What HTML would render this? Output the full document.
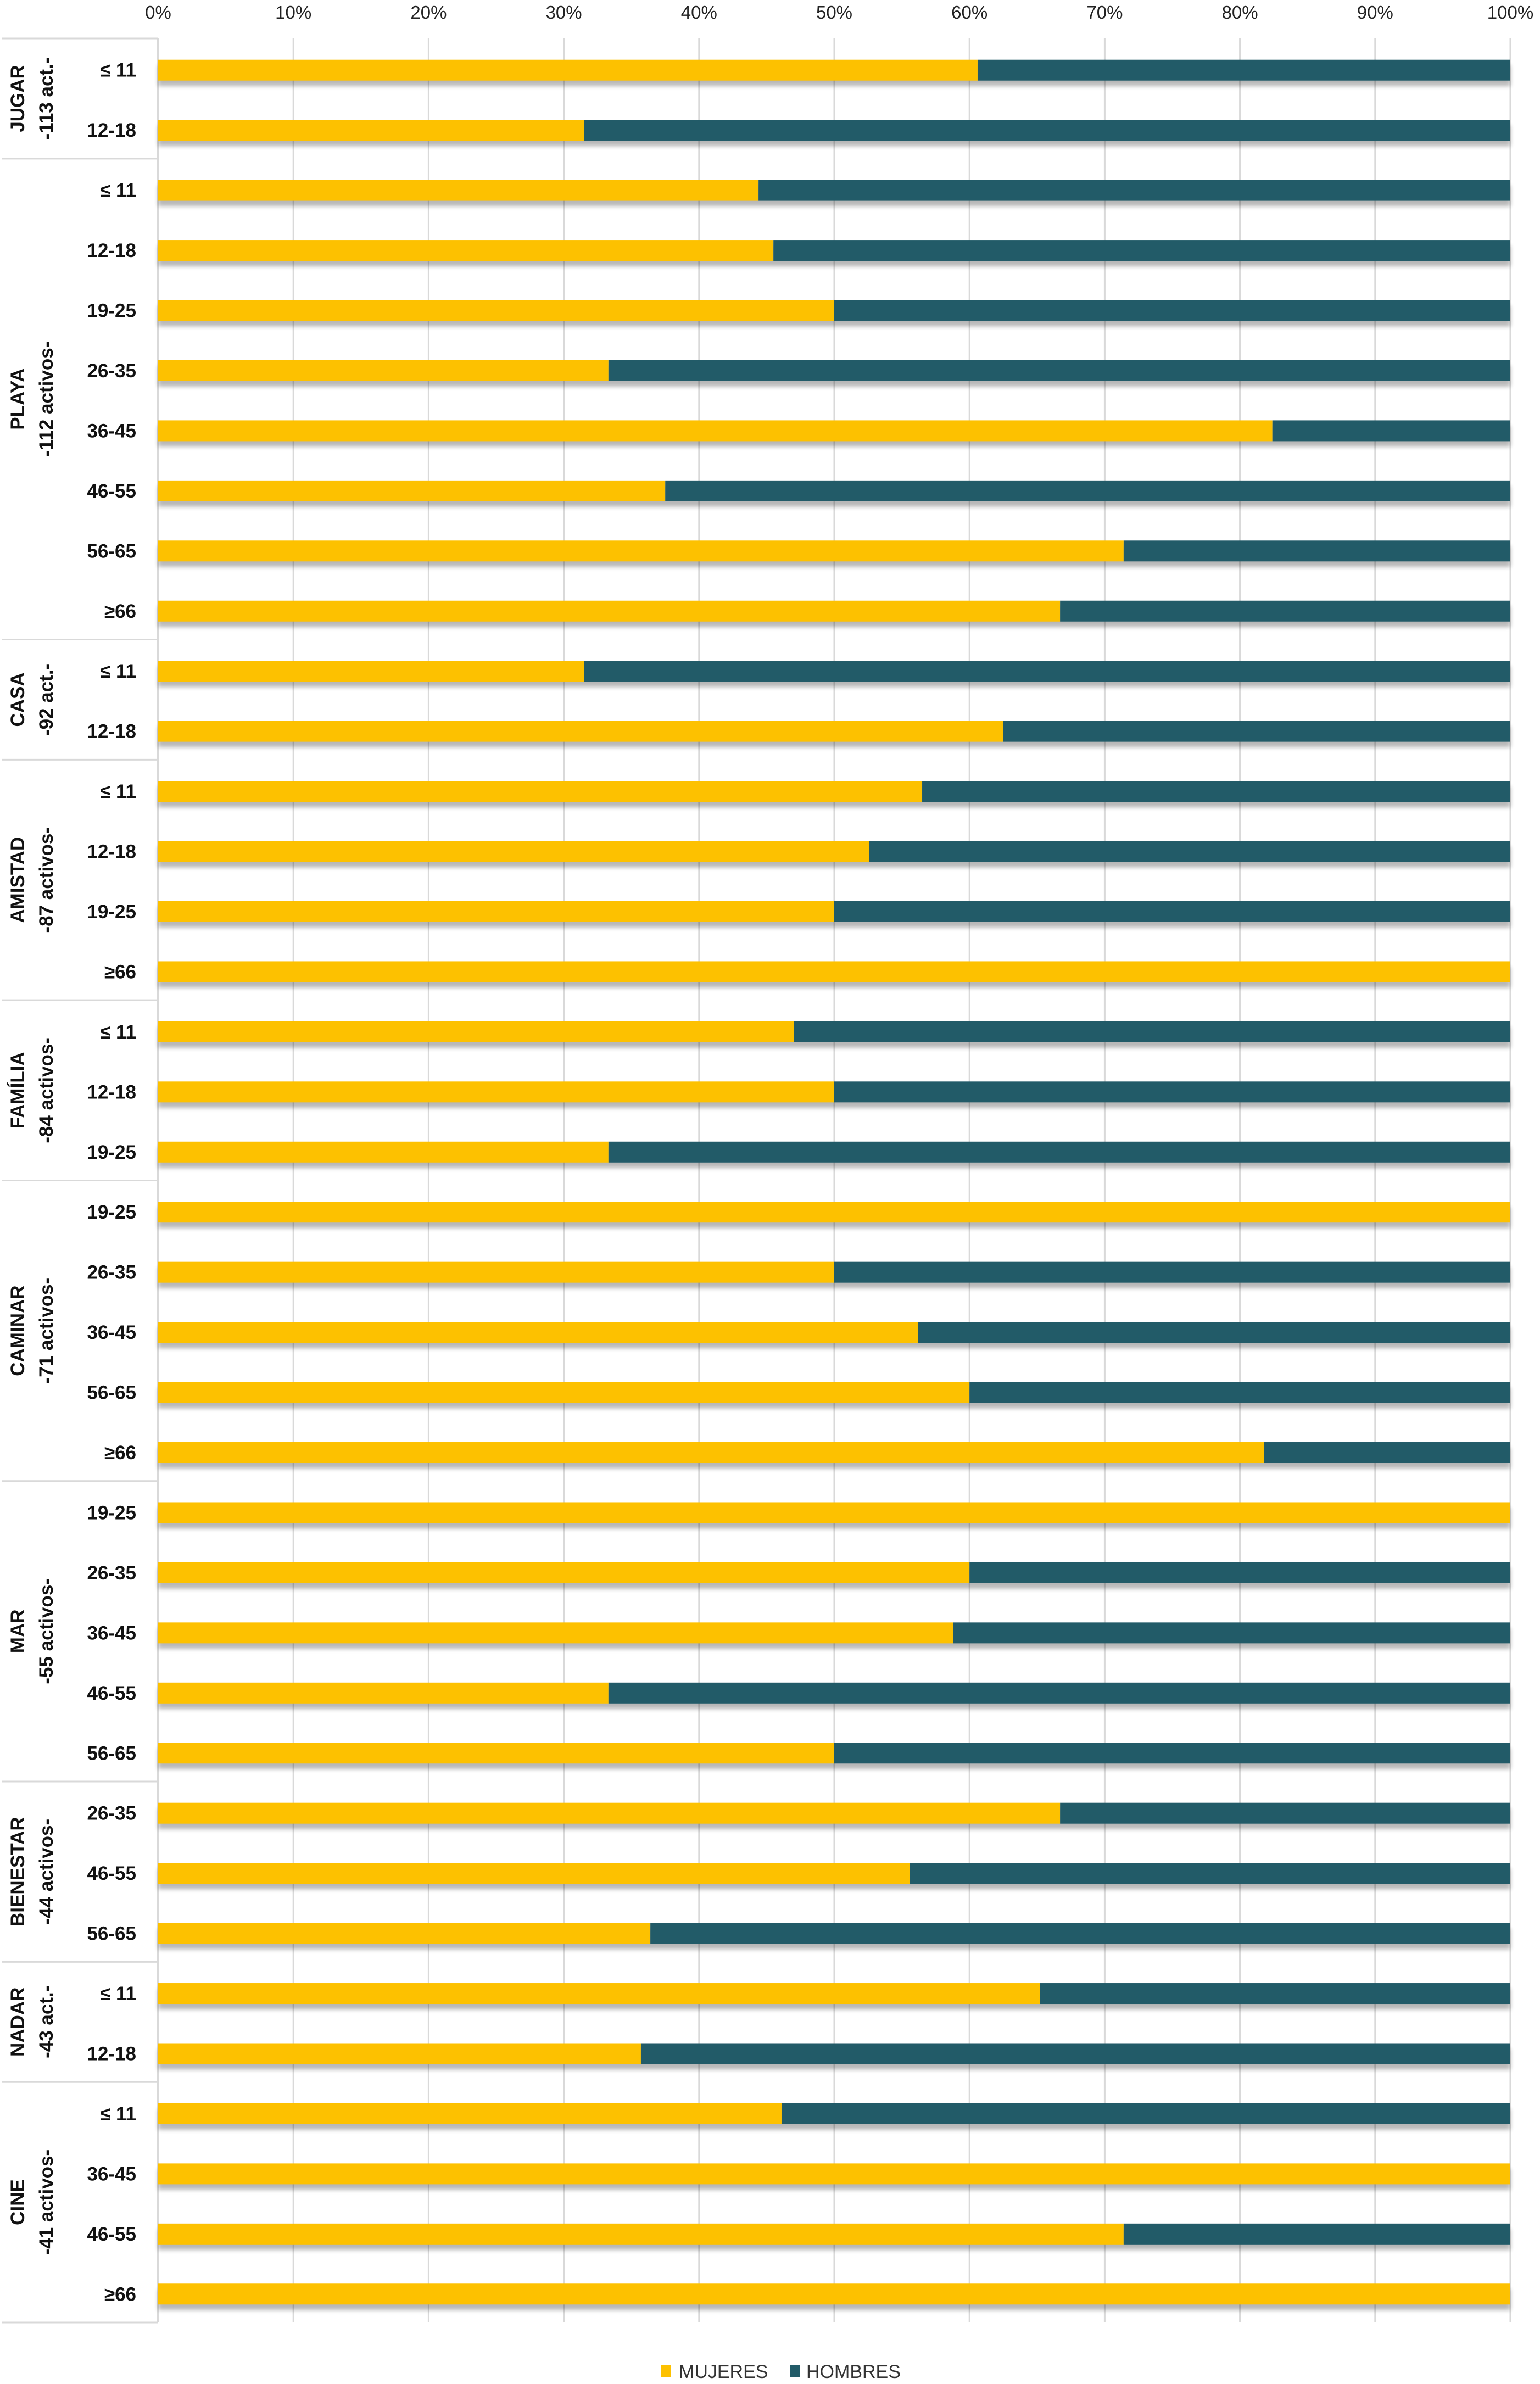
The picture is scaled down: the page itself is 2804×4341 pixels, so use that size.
<!DOCTYPE html>
<html><head><meta charset="utf-8">
<style>
html,body{margin:0;padding:0;background:#fff;}
svg{display:block;}
text{font-family:"Liberation Sans",sans-serif;}
</style></head>
<body>
<svg id="chart" width="2804" height="4341" viewBox="0 0 2804 4341" xmlns="http://www.w3.org/2000/svg">
<defs>
<filter id="sh" x="-5%" y="-50%" width="110%" height="250%">
<feGaussianBlur stdDeviation="4"/>
</filter>
</defs>
<g id="grid"></g><g id="bars"></g><g id="labels"></g>
<g>
<rect x="1203" y="4307" width="18" height="22" fill="#FDC100"/>
<text x="1236" y="4330" font-size="34" fill="#333">MUJERES</text>
<rect x="1438" y="4307" width="18" height="22" fill="#225B68"/>
<text x="1468" y="4330" font-size="34" fill="#333">HOMBRES</text>
</g>
</svg>
<script>
const groups = ["JUGAR","PLAYA","CASA","AMISTAD","FAMÍLIA","CAMINAR","MAR","BIENESTAR","NADAR","CINE"];
const groupSub = ["-113 act.-","-112 activos-","-92 act.-","-87 activos-","-84 activos-","-71 activos-","-55 activos-","-44 activos-","-43 act.-","-41 activos-"];
const groupAges = [
 ["≤ 11","12-18"],
 ["≤ 11","12-18","19-25","26-35","36-45","46-55","56-65","≥66"],
 ["≤ 11","12-18"],
 ["≤ 11","12-18","19-25","≥66"],
 ["≤ 11","12-18","19-25"],
 ["19-25","26-35","36-45","56-65","≥66"],
 ["19-25","26-35","36-45","46-55","56-65"],
 ["26-35","46-55","56-65"],
 ["≤ 11","12-18"],
 ["≤ 11","36-45","46-55","≥66"]
];
const mujeres = [
 [60.6,31.5],
 [44.4,45.5,50,33.3,82.4,37.5,71.4,66.7],
 [31.5,62.5],
 [56.5,52.6,50,100],
 [47,50,33.3],
 [100,50,56.2,60,81.8],
 [100,60,58.8,33.3,50],
 [66.7,55.6,36.4],
 [65.2,35.7],
 [46.1,100,71.4,100]
];
const ticks = ["0%","10%","20%","30%","40%","50%","60%","70%","80%","90%","100%"];

const NS="http://www.w3.org/2000/svg";
const X0=288, X1=2750, Y0=70, Y1=4229;
const nRows = groupAges.reduce((a,g)=>a+g.length,0);
const pitch=(Y1-Y0)/nRows;
const xs=v=>X0+(X1-X0)*v/100;
function mk(tag,attrs,parent){const e=document.createElementNS(NS,tag);for(const k in attrs)e.setAttribute(k,attrs[k]);parent.appendChild(e);return e;}
const grid=document.getElementById('grid'),bars=document.getElementById('bars'),labels=document.getElementById('labels');

ticks.forEach((t,i)=>{
  const x=xs(i*10);
  const l=mk('line',{x1:x,x2:x,y1:Y0,y2:Y1,stroke:'#d9d9d9','stroke-width':3},grid);
  
  
  const tx=mk('text',{x:x,y:34,'font-size':33,'text-anchor':'middle',fill:'#222'},labels);
  tx.textContent=t;
  
  
});

let row=0;
const topLine=mk('line',{x1:4,x2:X0,y1:Y0,y2:Y0,stroke:'#d9d9d9','stroke-width':3},grid);


groups.forEach((g,gi)=>{
  const start=row;
  groupAges[gi].forEach((age,ai)=>{
    const cy=Y0+pitch*(row+0.5)+3;
    const bh=38, by=cy-bh/2;
    const v=mujeres[gi][ai];
    const s=mk('rect',{x:X0,y:by+10,width:X1-X0,height:bh,fill:'#000',opacity:0.28,filter:'url(#sh)'},bars);
    
    
    const m=mk('rect',{x:X0,y:by,width:xs(v)-X0,height:bh,fill:'#FDC100'},bars);
    
    
    if(v<100){
      const h=mk('rect',{x:xs(v),y:by,width:X1-xs(v),height:bh,fill:'#225B68'},bars);
      
      
    }
    const t=mk('text',{x:248,y:cy+12,'font-size':35,'font-weight':'bold','text-anchor':'end',fill:'#111'},labels);
    t.textContent=age;
    
    
    row++;
  });
  const yb=Y0+pitch*row;
  const sep=mk('line',{x1:4,x2:X0,y1:yb,y2:yb,stroke:'#d9d9d9','stroke-width':3},grid);
  
  
  const cy=Y0+pitch*(start+row)/2;
  const gt=mk('text',{transform:`translate(44,${cy}) rotate(-90)`,'font-size':35,'font-weight':'bold','text-anchor':'middle',fill:'#111'},labels);
  gt.textContent=g;
  
  
  const st=mk('text',{transform:`translate(96,${cy}) rotate(-90)`,'font-size':35,'font-weight':'bold','text-anchor':'middle',fill:'#111'},labels);
  st.textContent=groupSub[gi];
  
  
});
const ax=mk('line',{x1:X0,x2:X0,y1:Y0,y2:Y1,stroke:'#d9d9d9','stroke-width':4},grid);


</script>
</body></html>
